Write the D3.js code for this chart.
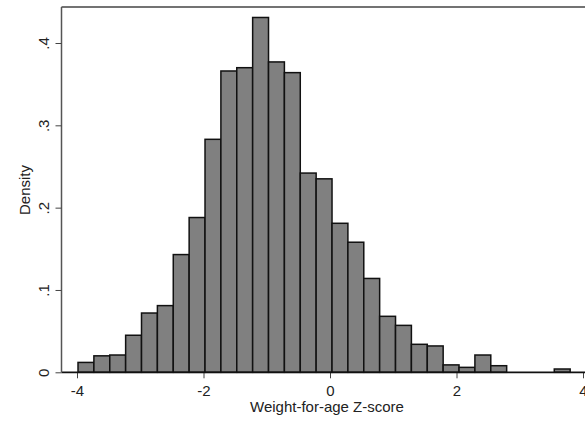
<!DOCTYPE html>
<html>
<head>
<meta charset="utf-8">
<script src="https://cdn.jsdelivr.net/npm/d3@7"></script>
<style>
  body { margin: 0; background: #fff; }
  svg { display: block; font-family: "Liberation Sans", Arial, sans-serif; }
</style>
</head>
<body>
<svg id="chart"></svg>
<script>
// histogram of weight-for-age z-scores, bins
const binStart = -3.984
const binWidth = 0.251
const density = [0.012, 0.020, 0.021, 0.045, 0.072, 0.081, 0.143, 0.188, 0.283, 0.366,
                 0.370, 0.431, 0.377, 0.364, 0.242, 0.235, 0.181, 0.158, 0.114, 0.068,
                 0.057, 0.034, 0.032, 0.009, 0.006, 0.021, 0.008, 0, 0, 0, 0.004]
const xTicks = [-4, -2, 0, 2, 4]
const yTicks = [0, 0.1, 0.2, 0.3, 0.4]
const xTitle = "Weight-for-age Z-score"
const yTitle = "Density"

width = 585
height = 421

const svg = d3.select("#chart")
  .attr("width", width)
  .attr("height", height)

const x = d3.scaleLinear().domain([-4, 4]).range([77, 583])
const y = d3.scaleLinear().domain([0, 0.4]).range([372.3, 43])

const bins = density.map((d, i) => ({
  x0: binStart + i * binWidth,
  x1: binStart + (i + 1) * binWidth,
  v: d
}))

// plot region outline (top edge)
svg.append("line")
  .attr("x1", 61.5).attr("x2", width)
  .attr("y1", 7).attr("y2", 7)
  .attr("stroke", "#444").attr("stroke-width", 1.6)

// bars
svg.append("g")
  .selectAll("rect")
  .data(bins.filter(d => d.v > 0))
  .join("rect")
  .attr("x", d => x(d.x0))
  .attr("width", d => x(d.x1) - x(d.x0))
  .attr("y", d => y(d.v))
  .attr("height", d => y(0) - y(d.v))
  .attr("fill", "#808080")
  .attr("stroke", "#111")
  .attr("stroke-width", 1.5)

// x axis
const xAxis = svg.append("g")
  .attr("transform", `translate(0,${y(0)})`)
  .call(d3.axisBottom(x).tickValues(xTicks).tickSize(6).tickSizeOuter(0).tickFormat(d3.format("d")))
xAxis.select(".domain").remove()
xAxis.selectAll(".tick line").attr("stroke", "#444")
xAxis.selectAll(".tick text")
  .attr("y", 24).attr("dy", 0)
  .style("font-size", "15px").attr("fill", "#222")
  .text(d => d < 0 ? "-" + Math.abs(d) : d)
svg.append("line")
  .attr("x1", 61.5).attr("x2", width)
  .attr("y1", y(0)).attr("y2", y(0))
  .attr("stroke", "#111").attr("stroke-width", 1.8)

// y axis
const yAxis = svg.append("g")
  .attr("transform", "translate(61.5,0)")
  .call(d3.axisLeft(y).tickValues(yTicks).tickSize(6).tickSizeOuter(0)
    .tickFormat(d => d === 0 ? "0" : d3.format(".1f")(d).replace(/^0\./, ".")))
yAxis.select(".domain")
  .attr("d", `M0,7V${y(0)}`)
  .attr("stroke", "#555").attr("stroke-width", 1.5)
yAxis.selectAll(".tick line").attr("stroke", "#444")
yAxis.selectAll(".tick text")
  .attr("x", 0).attr("dy", 0)
  .attr("text-anchor", "middle")
  .attr("transform", "translate(-12.5,0) rotate(-90)")
  .style("font-size", "15px").attr("fill", "#222")

// titles
svg.append("text")
  .attr("x", 327).attr("y", 411.5)
  .attr("text-anchor", "middle")
  .style("font-size", "15px").attr("fill", "#222")
  .text(xTitle)

svg.append("text")
  .attr("transform", "translate(30,190) rotate(-90)")
  .attr("text-anchor", "middle")
  .style("font-size", "15px").attr("fill", "#222")
  .text(yTitle)
</script>
</body>
</html>
